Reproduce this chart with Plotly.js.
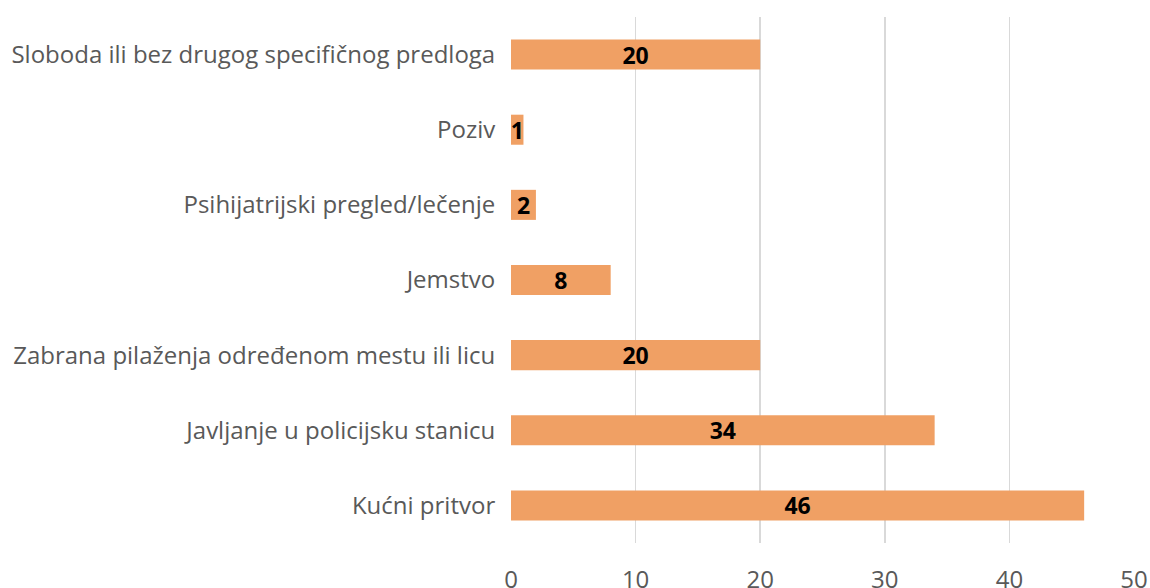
<!DOCTYPE html>
<html><head><meta charset="utf-8">
<script src="https://cdn.plot.ly/plotly-3.0.1.min.js"></script>
<style>html,body{margin:0;padding:0;background:#fff;}#chart{width:1150px;height:588px;}</style>
</head><body><div id="chart"></div>
<script>
const categories = [
  "Sloboda ili bez drugog specifičnog predloga",
  "Poziv",
  "Psihijatrijski pregled/lečenje",
  "Jemstvo",
  "Zabrana pilaženja određenom mestu ili licu",
  "Javljanje u policijsku stanicu",
  "Kućni pritvor"
];
const values = [20, 1, 2, 8, 20, 34, 46];
const xTicks = [0, 10, 20, 30, 40, 50];

const trace = {
  type: 'bar', orientation: 'h',
  y: categories, x: values,
  width: 0.4,
  marker: {color: '#F0A064'},
  text: values.map(String),
  textposition: 'inside',
  insidetextanchor: 'middle',
  textangle: 0,
  constraintext: 'none',
  textfont: {family: '"Liberation Sans Narrow", "Open Sans", sans-serif', size: 23, color: '#000', weight: 700},
  hoverinfo: 'none'
};
const layout = {
  width: 1150, height: 588,
  margin: {l: 511, r: 16, t: 17, b: 45},
  paper_bgcolor: '#fff', plot_bgcolor: '#fff',
  showlegend: false,
  font: {family: 'Open Sans', color: '#595959', size: 24},
  xaxis: {
    range: [0, 50], tickvals: xTicks, ticktext: xTicks.map(String),
    showgrid: true, gridcolor: '#D9D9D9', gridwidth: 1.5,
    zeroline: false, showline: false,
    ticks: 'outside', ticklen: 15, tickcolor: 'rgba(0,0,0,0)',
    tickfont: {family: 'Open Sans', size: 24, color: '#595959'},
    fixedrange: true
  },
  yaxis: {
    categoryorder: 'array', categoryarray: categories,
    autorange: 'reversed',
    showgrid: false, zeroline: false, showline: false,
    ticks: 'outside', ticklen: 10, tickcolor: 'rgba(0,0,0,0)',
    tickfont: {family: 'Open Sans', size: 24, color: '#595959'},
    fixedrange: true
  }
};
Plotly.newPlot('chart', [trace], layout, {displayModeBar: false, staticPlot: true});
</script></body></html>
